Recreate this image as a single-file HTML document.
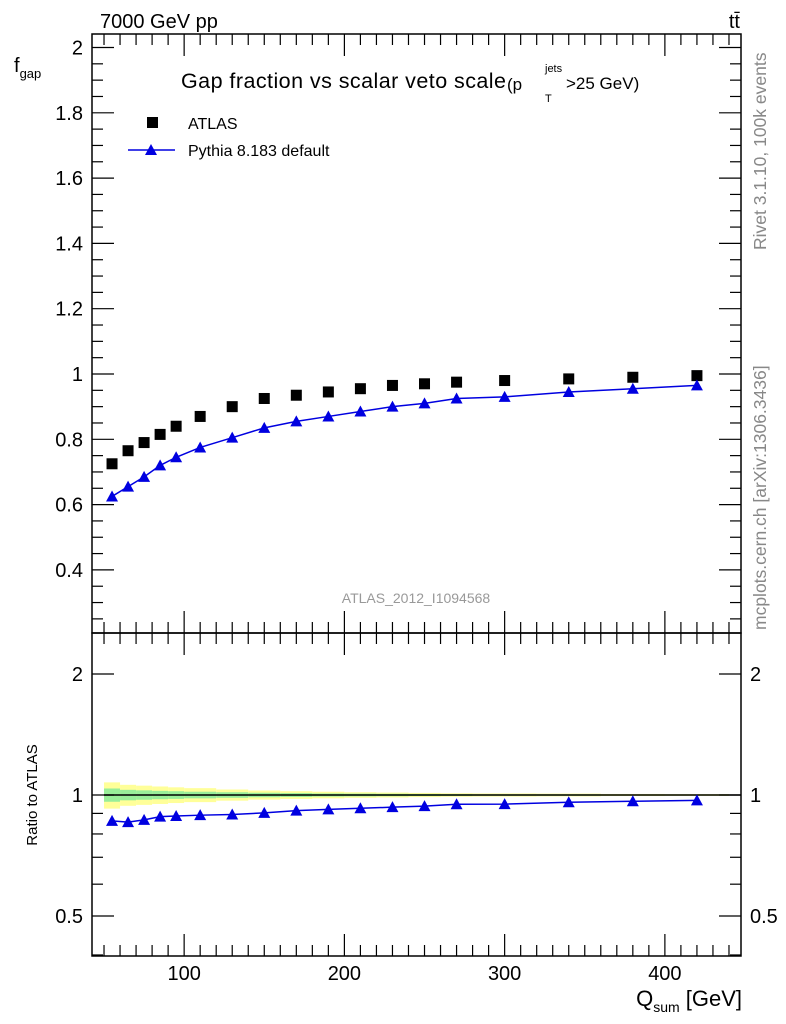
<!DOCTYPE html>
<html><head><meta charset="utf-8"><style>
html,body{margin:0;padding:0;background:#fff;}
svg{display:block;font-family:"Liberation Sans",sans-serif;}
</style></head><body>
<svg id="c" width="786" height="1024" viewBox="0 0 786 1024">
<text x="100" y="28" font-size="20">7000 GeV pp</text>
<text x="740" y="28" font-size="20" text-anchor="end">tt̄</text>
<text x="181" y="88" font-size="21.5" textLength="325">Gap fraction vs scalar veto scale</text>
<text x="507" y="90" font-size="17">(p</text>
<text x="545" y="72" font-size="11">jets</text>
<text x="545" y="102" font-size="11">T</text>
<text x="566" y="89" font-size="17">&gt;25 GeV)</text>
<text x="14" y="72" font-size="20">f<tspan font-size="13" dy="6">gap</tspan></text>
<text x="766" y="250" font-size="17.5" fill="#888" transform="rotate(-90 766 250)">Rivet 3.1.10,  100k events</text>
<text x="766" y="630" font-size="17.5" fill="#888" transform="rotate(-90 766 630)">mcplots.cern.ch [arXiv:1306.3436]</text>
<text x="416" y="603" font-size="14" fill="#999" text-anchor="middle">ATLAS_2012_I1094568</text>
<text x="37" y="795" font-size="15" text-anchor="middle" transform="rotate(-90 37 795)">Ratio to ATLAS</text>
<text x="742" y="1006" font-size="22" text-anchor="end">Q<tspan font-size="14" dy="6">sum</tspan><tspan dy="-6"> [GeV]</tspan></text>
<g>
<rect x="147" y="117" width="11" height="11" fill="#000"/>
<text x="188" y="129" font-size="16">ATLAS</text>
<line x1="128" y1="150" x2="175" y2="150" stroke="#0000e0" stroke-width="1.5"/>
<path d="M151,144 L157,155 L145,155 Z" fill="#0000e0"/>
<text x="188" y="156" font-size="16">Pythia 8.183 default</text>
</g>
<g id="g"></g>
</svg>
<script>
const qsum=[55,65,75,85,95,110,130,150,170,190,210,230,250,270,300,340,380,420];
const binLo=[50,60,70,80,90,100,120,140,160,180,200,220,240,260,280,320,360,400];
const binHi=[60,70,80,90,100,120,140,160,180,200,220,240,260,280,320,360,400,440];
const atlas=[0.725,0.765,0.79,0.815,0.84,0.87,0.9,0.925,0.935,0.945,0.955,0.965,0.97,0.975,0.98,0.985,0.99,0.995];
const pythia=[0.625,0.655,0.685,0.72,0.745,0.775,0.805,0.835,0.855,0.87,0.885,0.9,0.91,0.925,0.93,0.945,0.955,0.965];
const errTot=[0.075,0.06,0.055,0.05,0.045,0.04,0.032,0.026,0.022,0.019,0.016,0.014,0.012,0.01,0.009,0.008,0.006,0.005];
const errStat=[0.038,0.03,0.027,0.024,0.022,0.019,0.016,0.013,0.011,0.009,0.008,0.007,0.006,0.005,0.004,0.004,0.003,0.003];
const yTicks=[0.4,0.6,0.8,1,1.2,1.4,1.6,1.8,2];
const xTicks=[100,200,300,400];
const rTicks=[0.5,1,2];

const L=92,R=741,T=34,M=633,B=956;
const X=v=>L+(v-42.5)*(R-L)/405;
const Y=v=>374-(v-1)*326.5;
const YR=v=>795-Math.log10(v)*402;
const ns="http://www.w3.org/2000/svg";
const g=document.getElementById('g');
function mk(t,a,name){const e=document.createElementNS(ns,t);for(const k in a)e.setAttribute(k,a[k]);


g.appendChild(e);return e;}
for(let i=0;i<qsum.length;i++){
 const a=X(binLo[i]),b=X(binHi[i]);
 mk('rect',{x:a,y:YR(1+errTot[i]),width:b-a,height:YR(1-errTot[i])-YR(1+errTot[i]),fill:'#ffff99'},'ratio-band-total');
 mk('rect',{x:a,y:YR(1+errStat[i]),width:b-a,height:YR(1-errStat[i])-YR(1+errStat[i]),fill:'#99ee99'},'ratio-band-stat');
}
mk('line',{x1:X(50),x2:R,y1:YR(1),y2:YR(1),stroke:'#000','stroke-width':1.5},'ratio-reference-line');
mk('rect',{x:L,y:T,width:R-L,height:M-T,fill:'none',stroke:'#000','stroke-width':1.5},'main-frame');
mk('rect',{x:L,y:M,width:R-L,height:B-M,fill:'none',stroke:'#000','stroke-width':1.5},'ratio-frame');
for(let v=0.25;v<=2.02;v+=0.05){const y=Y(v);if(y<T||y>M)continue;const maj=Math.abs(v*5-Math.round(v*5))<1e-6;
 const len=maj?22:11;
 mk('line',{x1:L,x2:L+len,y1:y,y2:y,stroke:'#000','stroke-width':1.2},'y-tick');
 mk('line',{x1:R,x2:R-len,y1:y,y2:y,stroke:'#000','stroke-width':1.2},'y-tick-right');}
yTicks.forEach(v=>{const t=mk('text',{x:L-9,y:Y(v)+7,'font-size':20,'text-anchor':'end'},'y-tick-label');t.textContent=String(v);});
for(let v=50;v<=440;v+=10){const maj=v%100===0;const len=maj?22:11;
 mk('line',{x1:X(v),x2:X(v),y1:M,y2:M-len,stroke:'#000','stroke-width':1.2},'x-tick');
 mk('line',{x1:X(v),x2:X(v),y1:T,y2:T+len,stroke:'#000','stroke-width':1.2},'x-tick-top');
 mk('line',{x1:X(v),x2:X(v),y1:B,y2:B-len,stroke:'#000','stroke-width':1.2},'ratio-x-tick');
 mk('line',{x1:X(v),x2:X(v),y1:M,y2:M+len,stroke:'#000','stroke-width':1.2},'ratio-x-tick-top');}
xTicks.forEach(v=>{const t=mk('text',{x:X(v),y:980,'font-size':20,'text-anchor':'middle'},'x-tick-label');t.textContent=String(v);});
[0.4,0.5,0.6,0.7,0.8,0.9,1,2].forEach(v=>{const y=YR(v);const maj=rTicks.includes(v);const len=maj?22:11;
 mk('line',{x1:L,x2:L+len,y1:y,y2:y,stroke:'#000','stroke-width':1.2},'ratio-y-tick');
 mk('line',{x1:R,x2:R-len,y1:y,y2:y,stroke:'#000','stroke-width':1.2},'ratio-y-tick-right');});
rTicks.forEach(v=>{
 let t=mk('text',{x:L-9,y:YR(v)+7,'font-size':20,'text-anchor':'end'},'ratio-y-tick-label');t.textContent=String(v);
 t=mk('text',{x:R+9,y:YR(v)+7,'font-size':20},'ratio-y-tick-label-right');t.textContent=String(v);});
mk('polyline',{points:qsum.map((q,i)=>X(q)+','+Y(pythia[i])).join(' '),fill:'none',stroke:'#0000e0','stroke-width':1.5},'pythia-line');
const ratio=pythia.map((p,i)=>p/atlas[i]);
mk('polyline',{points:qsum.map((q,i)=>X(q)+','+YR(ratio[i])).join(' '),fill:'none',stroke:'#0000e0','stroke-width':1.5},'pythia-ratio-line');
const tri=(x,y)=>`M${x},${y-6} L${x+6},${y+5} L${x-6},${y+5} Z`;
qsum.forEach((q,i)=>{
 mk('rect',{x:X(q)-5.5,y:Y(atlas[i])-5.5,width:11,height:11,fill:'#000'},'atlas-point');
 mk('path',{d:tri(X(q),Y(pythia[i])),fill:'#0000e0'},'pythia-point');
 mk('path',{d:tri(X(q),YR(ratio[i])),fill:'#0000e0'},'pythia-ratio-point');
});
</script>
</body></html>
